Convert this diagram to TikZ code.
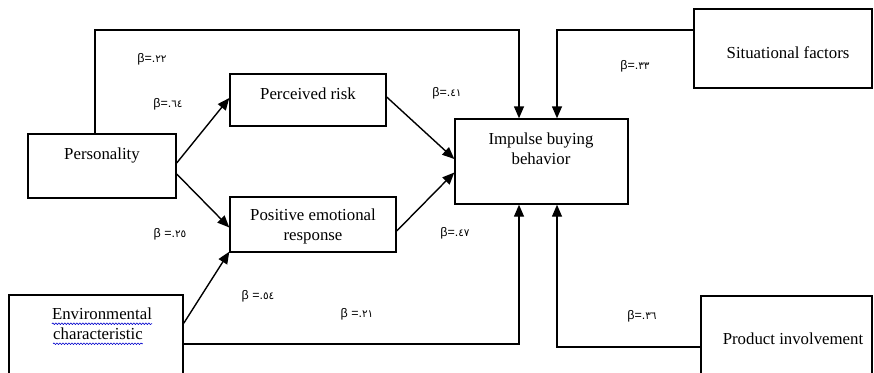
\documentclass[tikz,border=0pt]{standalone}
\usepackage{fontspec}
\setmainfont{Liberation Serif}
\newfontfamily\labfont{Liberation Sans}
\newfontfamily\digfont{DejaVu Sans}
\usetikzlibrary{arrows.meta,decorations.pathmorphing}
\newcommand{\betlab}[2]{{\labfont\fontsize{12.5}{14}\selectfont β#1=.{\digfont\fontsize{10.5}{12}\selectfont #2}}}
\begin{document}
\begin{tikzpicture}[x=1pt,y=-1pt,
  box/.style={draw,line width=1.4pt,inner sep=0pt},
  txt/.style={font=\fontsize{16.8}{20}\selectfont,align=center,inner sep=0pt},
  lab/.style={inner sep=0pt},
  arr/.style={line width=1.4pt,-{Triangle[length=12pt,width=10pt]}},
  wavy/.style={blue!80!black,line width=0.6pt,decorate,decoration={snake,amplitude=0.8pt,segment length=3pt}}]
\useasboundingbox (0,0) rectangle (874,372);
% boxes
\node[box,minimum width=148pt,minimum height=64pt] (pers) at (102,166) {};
\node[box,minimum width=156pt,minimum height=52pt] (risk) at (308,100) {};
\node[box,minimum width=166pt,minimum height=55pt] (pos) at (313,224.5) {};
\node[box,minimum width=173pt,minimum height=85pt] (imp) at (541.5,161.5) {};
\node[box,minimum width=178pt,minimum height=79pt] (sit) at (783,48.5) {};
\node[box,minimum width=171pt,minimum height=86pt] (prod) at (786.5,339) {};
\node[box,minimum width=174pt,minimum height=86pt] (env) at (96,338) {};
% texts
\node[txt] (perst) at (102,155) {Personality};
\node[txt] (riskt) at (308,94) {Perceived risk};
\node[txt] (post) at (313,226) {Positive emotional\\response};
\node[txt] (impt) at (541,149) {Impulse buying\\behavior};
\node[txt] (sitt) at (788,53) {Situational factors};
\node[txt] (prodt) at (793,339) {Product involvement};
\node[txt] (envt1) at (102,314) {Environmental};
\node[txt] (envt2) at (98,334) {characteristic};
\draw[wavy] ([yshift=-4pt]envt1.base west) -- ([yshift=-4pt]envt1.base east);
\draw[wavy] ([yshift=-4pt]envt2.base west) -- ([yshift=-4pt]envt2.base east);
% corner coordinates
\coordinate (cp) at (95,30);
\coordinate (ci1) at (519,30);
\coordinate (ci2) at (557,30);
\coordinate (ce1) at (519,344);
\coordinate (ce2) at (557,347);
% connectors
\draw[arr] (pers.north -| cp) -- (cp) -- (ci1) -- (ci1 |- imp.north);
\draw[arr] (sit.west |- ci2) -- (ci2) -- (ci2 |- imp.north);
\draw[arr] (env.east |- ce1) -- (ce1) -- (ce1 |- imp.south);
\draw[arr] (prod.west |- ce2) -- (ce2) -- (ce2 |- imp.south);
\draw[arr] ([yshift=3pt]pers.east) -- ([yshift=2pt]risk.west);
\draw[arr] ([yshift=-8pt]pers.east) -- ([yshift=-3pt]pos.west);
\draw[arr] ([yshift=-29pt]env.north east) -- ([yshift=1pt]pos.south west);
\draw[arr] ([yshift=3pt]risk.east) -- ([yshift=2.5pt]imp.west);
\draw[arr] ([yshift=-6.5pt]pos.east) -- ([yshift=-11pt]imp.west);
% labels
\node[lab] (l1) at (152,59) {\betlab{}{٢٢}};
\node[lab] (l2) at (168,104) {\betlab{}{٦٤}};
\node[lab] (l3) at (447,93) {\betlab{}{٤١}};
\node[lab] (l4) at (635,66) {\betlab{}{٣٣}};
\node[lab] (l5) at (170,234) {\betlab{ }{٢٥}};
\node[lab] (l6) at (455,233) {\betlab{}{٤٧}};
\node[lab] (l7) at (258,296) {\betlab{ }{٥٤}};
\node[lab] (l8) at (357,314) {\betlab{ }{٢١}};
\node[lab] (l9) at (642,316) {\betlab{}{٣٦}};
\end{tikzpicture}
\end{document}
